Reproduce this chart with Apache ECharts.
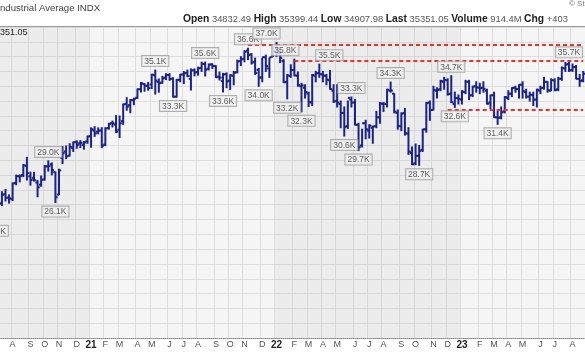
<!DOCTYPE html>
<html><head><meta charset="utf-8">
<script src="https://cdn.jsdelivr.net/npm/echarts@6/dist/echarts.min.js"></script>
<style>html,body{margin:0;padding:0;background:#fff;overflow:hidden;width:585px;height:352px;position:relative;}#c{position:absolute;left:-7px;top:0;width:592px;height:352px;}</style>
</head><body><div id="c"></div>
<script>
var weeks = [
'2020-06-29','2020-07-06','2020-07-13','2020-07-20','2020-07-27','2020-08-03','2020-08-10','2020-08-17','2020-08-24','2020-08-31','2020-09-07','2020-09-14','2020-09-21','2020-09-28','2020-10-05','2020-10-12','2020-10-19','2020-10-26','2020-11-02','2020-11-09','2020-11-16','2020-11-23','2020-11-30','2020-12-07','2020-12-14','2020-12-21','2020-12-28',
'2021-01-04','2021-01-11','2021-01-18','2021-01-25','2021-02-01','2021-02-08','2021-02-15','2021-02-22','2021-03-01','2021-03-08','2021-03-15','2021-03-22','2021-03-29','2021-04-05','2021-04-12','2021-04-19','2021-04-26','2021-05-03','2021-05-10','2021-05-17','2021-05-24','2021-05-31','2021-06-07','2021-06-14','2021-06-21','2021-06-28','2021-07-05','2021-07-12','2021-07-19','2021-07-26','2021-08-02','2021-08-09','2021-08-16','2021-08-23','2021-08-30','2021-09-06','2021-09-13','2021-09-20','2021-09-27','2021-10-04','2021-10-11','2021-10-18','2021-10-25','2021-11-01','2021-11-08','2021-11-15','2021-11-22','2021-11-29','2021-12-06','2021-12-13','2021-12-20','2021-12-27',
'2022-01-03','2022-01-10','2022-01-17','2022-01-24','2022-01-31','2022-02-07','2022-02-14','2022-02-21','2022-02-28','2022-03-07','2022-03-14','2022-03-21','2022-03-28','2022-04-04','2022-04-11','2022-04-18','2022-04-25','2022-05-02','2022-05-09','2022-05-16','2022-05-23','2022-05-30','2022-06-06','2022-06-13','2022-06-20','2022-06-27','2022-07-04','2022-07-11','2022-07-18','2022-07-25','2022-08-01','2022-08-08','2022-08-15','2022-08-22','2022-08-29','2022-09-05','2022-09-12','2022-09-19','2022-09-26','2022-10-03','2022-10-10','2022-10-17','2022-10-24','2022-10-31','2022-11-07','2022-11-14','2022-11-21','2022-11-28','2022-12-05','2022-12-12','2022-12-19','2022-12-26',
'2023-01-02','2023-01-09','2023-01-16','2023-01-23','2023-01-30','2023-02-06','2023-02-13','2023-02-20','2023-02-27','2023-03-06','2023-03-13','2023-03-20','2023-03-27','2023-04-03','2023-04-10','2023-04-17','2023-04-24','2023-05-01','2023-05-08','2023-05-15','2023-05-22','2023-05-29','2023-06-05','2023-06-12','2023-06-19','2023-06-26','2023-07-03','2023-07-10','2023-07-17','2023-07-24','2023-07-31','2023-08-07','2023-08-14','2023-08-21','2023-08-28'
];
var opens = [
25016,25866,26092,26710,26478,26376,27477,27922,28008,28631,27917,27811,27500,27353,27702,28592,28726,28198,26682,29158,29596,29307,29839,30233,30154,30026,30283,
30627,31008,30931,31017,30055,31174,31523,31405,31065,31645,32812,32732,33059,33222,33798,34146,34017,34113,34745,34294,34250,34584,34760,34520,33297,34440,34800,34900,34500,35080,34970,35242,35500,35183,35476,35370,34650,34357,34820,34380,34700,34950,35700,35850,36400,36150,35650,35100,34600,35950,35200,36000,
36321,36200,35700,34300,34700,35100,34700,34000,33900,33500,32900,34700,34900,34800,34700,34400,33700,33000,32800,32200,31300,33100,32900,31400,30000,31500,31000,31200,31300,31900,32800,32800,33700,33500,32200,31300,32200,30800,29500,28800,29300,29700,31100,32900,32400,33700,33800,34300,34400,33500,32800,33200,
33100,33600,34300,33400,34000,33900,33900,33700,32900,33400,31900,31900,32300,33200,33500,33900,33800,34100,33600,33300,33400,33100,33700,33900,34300,33700,34400,33800,34500,35200,35500,35100,35300,34500,34400
];
var highs = [
25995,26332,26880,27029,26664,27470,28000,28012,28712,29199,28198,28186,27628,27939,28649,28959,28823,28202,28399,29934,29965,30117,30233,30319,30326,30268,30637,
31194,31272,31189,31200,31199,31500,31643,32010,31987,32793,33227,33098,33190,33810,34256,34171,34256,34811,35092,34492,34670,34849,34849,34570,34460,34800,35000,35091,35171,35172,35289,35625,35631,35505,35513,35380,34960,34870,34900,34770,35000,35765,36000,36400,36565,36200,35900,35200,35900,36100,35900,36700,
36953,36400,35800,34800,35450,35824,34960,34200,34100,33600,34800,35000,35492,35000,34800,35054,34100,34100,33000,32600,33000,33272,33100,31500,31100,31700,31400,31300,32300,32900,32900,33800,34281,33500,32400,32200,32500,31200,29900,30100,30000,31100,32900,33000,34000,33900,34400,34600,34500,34712,33600,33400,
33700,34400,34400,34000,34300,34200,34300,33800,33400,33600,32300,32600,33300,33700,33900,34000,34100,34300,33800,33600,33600,33800,34000,34600,34300,34500,34500,34600,35300,35600,35679,35500,35400,34800,35000
];
var lows = [
24844,25631,25947,26256,26112,26286,27350,27542,27896,27665,27325,27601,26537,27247,27664,28272,28021,26143,26681,28781,29113,29298,29597,29813,29865,29747,30147,
29881,30612,30780,29856,29987,31105,31249,30880,30548,31426,32381,32211,32751,33172,33614,33662,33738,33847,33473,33600,34200,34448,34401,33271,33267,34300,34180,34650,33741,34700,34750,35000,34690,35100,35200,34600,34420,33614,33900,33785,34100,34900,35400,35650,35800,35500,34800,33997,34300,35000,34600,36000,
36000,35600,34250,33150,34600,34700,34000,32272,33200,32632,32700,34300,34600,34300,34100,33800,32900,32600,31200,30636,31150,32600,31390,29653,29900,30450,30500,30150,31200,31500,32300,32600,33600,32200,31100,31000,30700,29400,28715,28700,28661,29600,30900,31700,32400,33200,33700,33800,33400,32900,32573,32800,
32800,33500,33100,33300,33600,33500,33600,32800,32500,31900,31429,31800,32200,33100,33300,33600,33200,33200,33200,33000,32700,32600,33500,33800,33600,33700,33700,33700,34400,35000,35000,35000,34500,34000,34300
];
var closes = [
25827,26075,26672,26470,26428,27433,27931,27930,28654,28133,27666,27657,27174,27683,28587,28606,28336,26502,28323,29480,29263,29910,30218,30046,30179,30200,30606,
31098,30814,30997,29983,31148,31458,31494,30932,31496,32779,32628,33073,33153,33801,34200,34043,33875,34778,34382,34208,34529,34756,34480,33290,34433,34786,34870,34687,35062,34935,35209,35515,35120,35456,35369,34608,34584,34798,34326,34746,34912,35677,35820,36328,36100,35602,34899,34580,35971,35365,35951,36338,
36232,35912,34265,34725,35090,34739,34079,34059,33615,32944,34755,34861,34818,34721,34451,33811,32977,32899,32197,31262,33213,32900,31393,29888,31501,31097,31338,31288,31899,32845,32803,33761,33706,32283,31318,32151,30822,29590,28726,29297,29635,31083,32861,32403,33748,33746,34347,34430,33477,32920,33203,33147,
33631,34303,33375,33978,33926,33869,33827,32817,33391,31910,31862,32238,33274,33485,33887,33809,34098,33674,33301,33427,33093,33763,33877,34299,33727,34408,33734,34509,35228,35459,35066,35281,34501,34347,34838
];
// price labels: week index, 'H' or 'L', text
var peakIdx  = [0,15,17,45,50,59,64,71,74,79,82,84,86,91,98,100,102,111,119,128,129,141,161];
var peakType = ['L','H','L','H','L','H','L','H','L','H','L','H','L','H','L','H','L','H','L','H','L','L','H'];
var peakText = ['24.8K','29.0K','26.1K','35.1K','33.3K','35.6K','33.6K','36.6K','34.0K','37.0K','33.2K','35.8K','32.3K','35.5K','30.6K','33.3K','29.7K','34.3K','28.7K','34.7K','32.6K','31.4K','35.7K'];
var peakShift = {79:-10, 84:-9, 91:10};
// resistance/support lines: start index and level
var levelStart = [71, 84, 127];
var levelValue = [36800, 35690, 32430];
// shaded years (start idx, end idx)
var shadeStart = [0, 79];
var shadeEnd = [26, 130];
var monthLetters = ['J','F','M','A','M','J','J','A','S','O','N','D'];
var headerOpen='34832.49', headerHigh='35399.44', headerLow='34907.98', headerLast='35351.05', headerVol='914.4M', headerChg='+403';

function mon(s){return +s.slice(5,7);}
function isMonthStart(i){return i>0 && mon(weeks[i])!==mon(weeks[i-1]);}

var ohlc = weeks.map(function(w,i){return [i, opens[i], highs[i], lows[i], closes[i]];});
var BAR = '#1b2486';
var DX = 7; // container is shifted 7px left

var chart = echarts.init(document.getElementById('c'), null, {renderer:'canvas'});
chart.setOption({
  animation:false,
  backgroundColor:'#ffffff',
  grid:{left:0, right:0, top:27, bottom:14, show:true, backgroundColor:'#f5f5f5', borderWidth:0},
  xAxis:{
    type:'category', data:weeks, boundaryGap:true,
    axisLine:{show:true, lineStyle:{color:'#8a8a8a', type:'dotted', width:1}},
    axisTick:{show:false},
    axisLabel:{
      interval:function(i){return isMonthStart(i);},
      formatter:function(v){var m=mon(v); if(m===1){return '{yr|'+v.slice(2,4)+'}';} return monthLetters[m-1];},
      fontSize:9, color:'#555', margin:2, fontFamily:'Liberation Sans',
      rich:{yr:{fontWeight:'bold', fontSize:10, color:'#222', fontFamily:'Liberation Sans'}}
    },
    splitLine:{show:true, interval:function(i){return isMonthStart(i);}, lineStyle:{color:'#dedede', width:1}}
  },
  yAxis:{
    type:'value', position:'right', min:17000, max:38000, interval:1000,
    axisLabel:{show:false}, axisLine:{show:false}, axisTick:{show:false},
    splitLine:{show:true, lineStyle:{color:'#dedede', width:1}}
  },
  graphic:[
    {type:'text', left:DX, top:3, style:{text:'ndustrial Average INDX', font:'9.6px "Liberation Sans"', fill:'#444'}},
    {type:'text', left:183+DX, top:14, style:{
      text:'{b|Open} '+headerOpen+' {b|High} '+headerHigh+' {b|Low} '+headerLow+' {b|Last} '+headerLast+' {b|Volume} '+headerVol+' {b|Chg} '+headerChg,
      font:'9.4px "Liberation Sans"', fill:'#555',
      rich:{b:{fontWeight:'bold', fill:'#222', fontSize:10.3, fontFamily:'Liberation Sans'}}}},
    {type:'text', left:569+DX, top:0, style:{text:'\u00a9 StockCharts.com', font:'8px "Liberation Sans"', fill:'#777'}},
    {type:'line', shape:{x1:0, y1:26.5, x2:600, y2:26.5}, style:{stroke:'#9a9a9a', lineWidth:1}, z:10},
    {type:'text', left:DX-10, top:28, style:{text:'35351.05', font:'9px "Liberation Sans"', fill:'#222'}, z:10}
  ],
  series:[
    {
      type:'custom', name:'shade', silent:true, z:1,
      data:shadeStart.map(function(s){return [s, 20000];}),
      renderItem:function(params, api){
        var s = shadeStart[params.dataIndex], e = shadeEnd[params.dataIndex];
        var w = api.size([1,0])[0];
        var x1 = api.coord([s, 20000])[0]-w/2, x2 = api.coord([e, 20000])[0]+w/2;
        var cs = params.coordSys;
        return {type:'rect', shape:{x:x1, y:cs.y, width:x2-x1, height:cs.height}, style:{fill:'rgba(0,0,0,0.035)'}};
      }
    },
    {
      type:'custom', name:'INDU', z:3,
      data:ohlc,
      encode:{x:0, y:[1,2,3,4]},
      renderItem:function(params, api){
        var i = api.value(0);
        var o = api.coord([i, api.value(1)]);
        var h = api.coord([i, api.value(2)]);
        var l = api.coord([i, api.value(3)]);
        var c = api.coord([i, api.value(4)]);
        var x = h[0], t = 2.2;
        var st = {stroke:BAR, lineWidth:2};
        return {type:'group', children:[
          {type:'line', shape:{x1:x, y1:h[1]-0.5, x2:x, y2:l[1]+0.5}, style:st},
          {type:'line', shape:{x1:x-t, y1:o[1], x2:x, y2:o[1]}, style:st},
          {type:'line', shape:{x1:x, y1:c[1], x2:x+t, y2:c[1]}, style:st}
        ]};
      },
      markLine:{
        silent:true, symbol:['none','none'], animation:false,
        lineStyle:{color:'#e8312b', type:[4,3], width:2},
        label:{show:false},
        data:levelStart.map(function(s,k){return [{coord:[s, levelValue[k]]},{coord:[weeks.length-1, levelValue[k]]}];})
      }
    },
    {
      type:'scatter', name:'labels', z:5, symbolSize:0, silent:true,
      data:peakIdx.map(function(ix,k){
        var isH = peakType[k]==='H';
        return {value:[ix, isH?highs[ix]:lows[ix]],
          label:{position:isH?'top':'bottom', offset:[peakShift[ix]||0,0], formatter:peakText[k]}};
      }),
      label:{show:true, distance:4, fontSize:8.5, fontFamily:'Liberation Sans', color:'#333',
        backgroundColor:'#f3f3f3', borderColor:'#9c9c9c', borderWidth:1, padding:[1,2,0,2], lineHeight:9}
    }
  ]
});
</script></body></html>
